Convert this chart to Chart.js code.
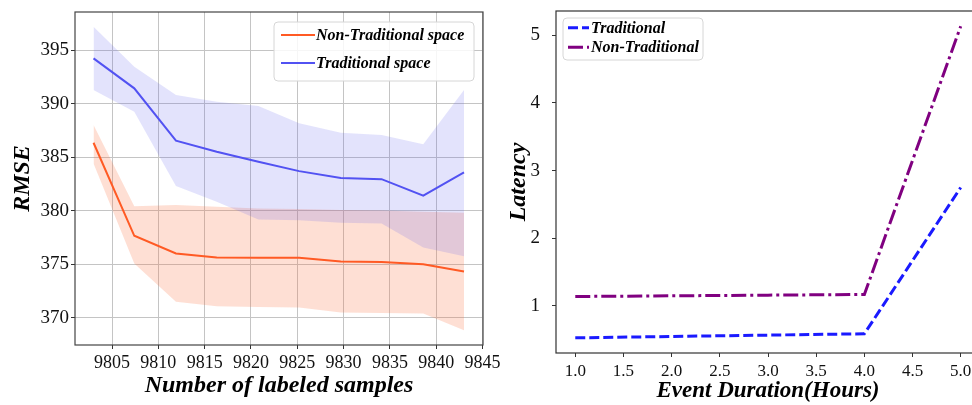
<!DOCTYPE html>
<html>
<head>
<meta charset="utf-8">
<script src="https://cdn.jsdelivr.net/npm/chart.js@4.4.0/dist/chart.umd.min.js"></script>
<style>
  html, body { margin: 0; padding: 0; background: #fff; overflow: hidden; }
  body { width: 972px; height: 405px; position: relative; }
  #left { position: absolute; left: 0; top: 0; }
  #right { position: absolute; left: 490px; top: 0; }
</style>
</head>
<body>
<canvas id="left" width="510" height="405"></canvas>
<canvas id="right" width="520" height="405"></canvas>
<script>
// left panel: RMSE vs number of labeled samples
const samples = [9803, 9807.4, 9811.9, 9816.3, 9820.8, 9825.2, 9829.7, 9834.1, 9838.6, 9843];
const nonTradMean  = [386.34, 377.65, 376.0, 375.62, 375.59, 375.59, 375.25, 375.2, 375.0, 374.32];
const nonTradUpper = [387.99, 380.42, 380.53, 380.36, 380.2, 380.15, 380.05, 380.0, 379.9, 379.8];
const nonTradLower = [384.4, 375.06, 371.48, 371.07, 371.0, 370.95, 370.48, 370.45, 370.39, 368.83];
const tradMean  = [394.22, 391.42, 386.53, 385.5, 384.56, 383.69, 383.04, 382.94, 381.39, 383.57];
const tradUpper = [397.18, 393.44, 390.8, 390.17, 389.77, 388.15, 387.27, 387.06, 386.2, 391.26];
const tradLower = [391.26, 389.23, 382.29, 380.82, 379.18, 379.11, 378.86, 378.8, 376.56, 375.75];
const sampleTicks = [9805, 9810, 9815, 9820, 9825, 9830, 9835, 9840, 9845];
const rmseTicks = [370, 375, 380, 385, 390, 395];

// right panel: latency vs event duration
const durations = [1, 2, 3, 4, 5];
const tradLatency    = [0.53, 0.55, 0.57, 0.59, 2.75];
const nonTradLatency = [1.14, 1.15, 1.16, 1.17, 5.13];
const durationTicks = [1.0, 1.5, 2.0, 2.5, 3.0, 3.5, 4.0, 4.5, 5.0];
const latencyTicks = [1, 2, 3, 4, 5];

const SERIF = "'Liberation Serif', 'DejaVu Serif', serif";

const pts = (xs, ys) => xs.map((x, i) => ({ x: x, y: ys[i] }));

// keep the plot area where layout.padding puts it
const noPad = s => { s.paddingTop = 0; s.paddingBottom = 0; s.paddingLeft = 0; s.paddingRight = 0; };

// box round the plot area (matplotlib spines)
const frame = {
    id: 'frame',
    afterDatasetsDraw(chart, args, opts) {
        const { ctx, chartArea: a } = chart;
        ctx.save();
        ctx.strokeStyle = opts.color;
        ctx.lineWidth = opts.width;
        ctx.strokeRect(a.left, a.top, a.right - a.left, a.bottom - a.top);
        ctx.restore();
    }
};

// legend drawn inside the plot area
const boxLegend = {
    id: 'boxLegend',
    afterDraw(chart, args, o) {
        const ctx = chart.ctx;
        ctx.save();
        ctx.fillStyle = 'rgba(255,255,255,0.85)';
        ctx.strokeStyle = '#d6d6d6';
        ctx.lineWidth = 1;
        ctx.beginPath();
        ctx.roundRect(o.x, o.y, o.w, o.h, 4);
        ctx.fill();
        ctx.stroke();
        ctx.font = o.font;
        ctx.textBaseline = 'middle';
        const items = chart.data.datasets.filter(d => d.inLegend);
        items.forEach((d, i) => {
            const cy = o.y + o.firstRow + i * o.rowH;
            ctx.strokeStyle = d.borderColor;
            ctx.lineWidth = d.borderWidth;
            ctx.setLineDash(d.borderDash || []);
            ctx.beginPath();
            ctx.moveTo(o.x + o.pad, cy);
            ctx.lineTo(o.x + o.pad + o.lineLen, cy);
            ctx.stroke();
            ctx.setLineDash([]);
            ctx.fillStyle = '#000';
            ctx.fillText(d.label, o.x + o.pad + o.lineLen + o.gap, cy + 1);
        });
        ctx.restore();
    }
};

const band = (data, color, fill) => ({
    data: data,
    borderWidth: 0,
    pointRadius: 0,
    backgroundColor: color,
    fill: fill
});

new Chart(document.getElementById('left'), {
    type: 'line',
    data: {
        datasets: [
            {
                label: 'Non-Traditional space', inLegend: true,
                data: pts(samples, nonTradMean),
                borderColor: '#ff5a24', borderWidth: 2, pointRadius: 0, fill: false
            },
            {
                label: 'Traditional space', inLegend: true,
                data: pts(samples, tradMean),
                borderColor: '#5252f2', borderWidth: 2, pointRadius: 0, fill: false
            },
            band(pts(samples, tradUpper), 'rgba(90,90,240,0.17)', false),
            band(pts(samples, tradLower), 'rgba(90,90,240,0.17)', '-1'),
            band(pts(samples, nonTradUpper), 'rgba(250,110,60,0.22)', false),
            band(pts(samples, nonTradLower), 'rgba(250,110,60,0.22)', '-1')
        ]
    },
    options: {
        responsive: false,
        animation: false,
        devicePixelRatio: 1,
        layout: { padding: { left: 0, right: 27, top: 12, bottom: 0 } },
        plugins: {
            legend: { display: false },
            tooltip: { enabled: false },
            frame: { color: '#444', width: 1.2 },
            boxLegend: {
                x: 274, y: 22, w: 200, h: 59, firstRow: 13, rowH: 28,
                pad: 7, lineLen: 34, gap: 1,
                font: "italic bold 16px " + SERIF
            }
        },
        scales: {
            x: {
                type: 'linear',
                min: 9801, max: 9845.05,
                afterBuildTicks: s => { s.ticks = sampleTicks.map(v => ({ value: v })); },
                afterFit: s => { s.height = 60; noPad(s); },
                ticks: {
                    font: { family: SERIF, size: 18 }, color: '#111',
                    padding: 3, maxRotation: 0, autoSkip: false,
                    callback: v => String(v)
                },
                grid: { color: '#c4c4c4', tickColor: '#333', tickLength: 4, lineWidth: 1 },
                border: { display: false },
                title: {
                    display: true, text: 'Number of labeled samples', color: '#000',
                    font: { family: SERIF, size: 24, style: 'italic', weight: 'bold' },
                    padding: { top: 0, bottom: 5 }
                }
            },
            y: {
                min: 367.45, max: 398.55,
                afterBuildTicks: s => { s.ticks = rmseTicks.map(v => ({ value: v })); },
                afterFit: s => { s.width = 75; noPad(s); },
                ticks: { font: { family: SERIF, size: 19 }, color: '#111', padding: 2 },
                grid: { color: '#c4c4c4', tickColor: '#333', tickLength: 4, lineWidth: 1 },
                border: { display: false },
                title: {
                    display: true, text: 'RMSE', color: '#000',
                    font: { family: SERIF, size: 24, style: 'italic', weight: 'bold' },
                    padding: { top: 8, bottom: 0 }
                }
            }
        }
    },
    plugins: [frame, boxLegend]
});

new Chart(document.getElementById('right'), {
    type: 'line',
    data: {
        datasets: [
            {
                label: 'Traditional', inLegend: true,
                data: pts(durations, tradLatency),
                borderColor: '#1a1aff', borderWidth: 3, borderDash: [10, 4],
                pointRadius: 0, fill: false
            },
            {
                label: 'Non-Traditional', inLegend: true,
                data: pts(durations, nonTradLatency),
                borderColor: '#800080', borderWidth: 3, borderDash: [15, 4, 3, 4],
                pointRadius: 0, fill: false
            }
        ]
    },
    options: {
        responsive: false,
        animation: false,
        devicePixelRatio: 1,
        layout: { padding: { left: 0, right: 30, top: 11, bottom: 0 } },
        plugins: {
            legend: { display: false },
            tooltip: { enabled: false },
            frame: { color: '#333', width: 1.2 },
            boxLegend: {
                x: 73, y: 18, w: 140, h: 42, firstRow: 9.7, rowH: 19.6,
                pad: 5, lineLen: 21, gap: 2,
                font: "italic bold 16px " + SERIF
            }
        },
        scales: {
            x: {
                type: 'linear',
                min: 0.8, max: 5.2,
                afterBuildTicks: s => { s.ticks = durationTicks.map(v => ({ value: v })); },
                afterFit: s => { s.height = 52; noPad(s); },
                ticks: {
                    font: { family: SERIF, size: 17 }, color: '#111',
                    padding: 4, maxRotation: 0, autoSkip: false,
                    callback: v => v.toFixed(1)
                },
                grid: { drawOnChartArea: false, tickColor: '#333', tickLength: 4 },
                border: { display: false },
                title: {
                    display: true, text: 'Event Duration(Hours)', color: '#000',
                    font: { family: SERIF, size: 23, style: 'italic', weight: 'bold' },
                    padding: { top: 0, bottom: 0 }
                }
            },
            y: {
                min: 0.306, max: 5.355,
                afterBuildTicks: s => { s.ticks = latencyTicks.map(v => ({ value: v })); },
                afterFit: s => { s.width = 66; noPad(s); },
                ticks: { font: { family: SERIF, size: 19 }, color: '#111', padding: 12 },
                grid: { drawOnChartArea: false, tickColor: '#333', tickLength: 4 },
                border: { display: false },
                title: {
                    display: true, text: 'Latency', color: '#000',
                    font: { family: SERIF, size: 24, style: 'italic', weight: 'bold' },
                    padding: { top: 14, bottom: 0 }
                }
            }
        }
    },
    plugins: [frame, boxLegend]
});
</script>
</body>
</html>
